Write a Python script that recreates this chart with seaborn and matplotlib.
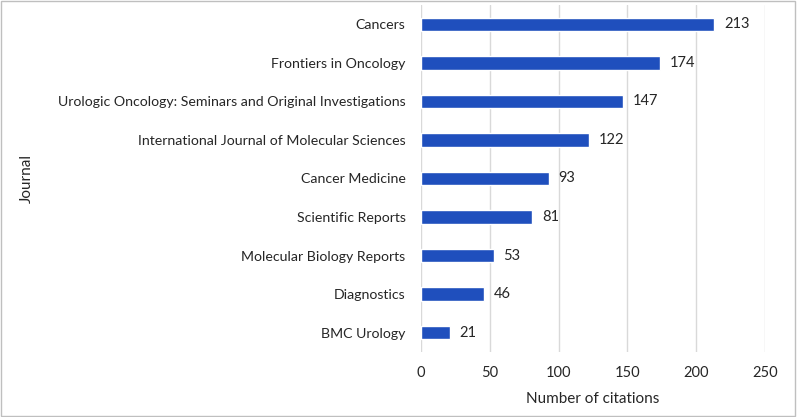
import pandas as pd
import matplotlib.pyplot as plt
import seaborn as sns

journals = ["Cancers", "Frontiers in Oncology",
            "Urologic Oncology: Seminars and Original Investigations",
            "International Journal of Molecular Sciences", "Cancer Medicine",
            "Scientific Reports", "Molecular Biology Reports", "Diagnostics",
            "BMC Urology"]
citations = [213, 174, 147, 122, 93, 81, 53, 46, 21]

df = pd.DataFrame({"journal": journals, "citations": citations})

sns.set_theme(style="white")
plt.rcParams["font.family"] = ["Lato", "DejaVu Sans"]

fig = plt.figure(figsize=(7.97, 4.17), dpi=100)
ax = fig.add_axes([0.528, 0.156, 0.432, 0.832])

sns.barplot(data=df, y="journal", x="citations", color="#1f4fbd",
            width=0.35, saturation=1, ax=ax)

for container in ax.containers:
    ax.bar_label(container, padding=7, fontsize=10.5, color="#262626")

ax.set_xlim(0, 250)
ax.set_xticks([0, 50, 100, 150, 200, 250])
ax.xaxis.grid(True, color="#d9d9d9", linewidth=1)
ax.set_axisbelow(True)
for s in ax.spines.values():
    s.set_visible(False)
ax.tick_params(axis="both", length=0, colors="#262626")
ax.tick_params(axis="x", pad=10, labelsize=10.5)
ax.tick_params(axis="y", pad=11, labelsize=10.2)
ax.set_xlabel("Number of citations", fontsize=11, color="#262626", labelpad=9)
ax.set_ylabel("Journal", fontsize=11, color="#262626")
ax.yaxis.set_label_coords(-1.125, 0.5)

fig.patches.append(plt.Rectangle((0.001, 0.002), 0.997, 0.995, transform=fig.transFigure,
                                 fill=False, edgecolor="#bfbfbf", linewidth=1))

fig.savefig("out.png", dpi=100)
